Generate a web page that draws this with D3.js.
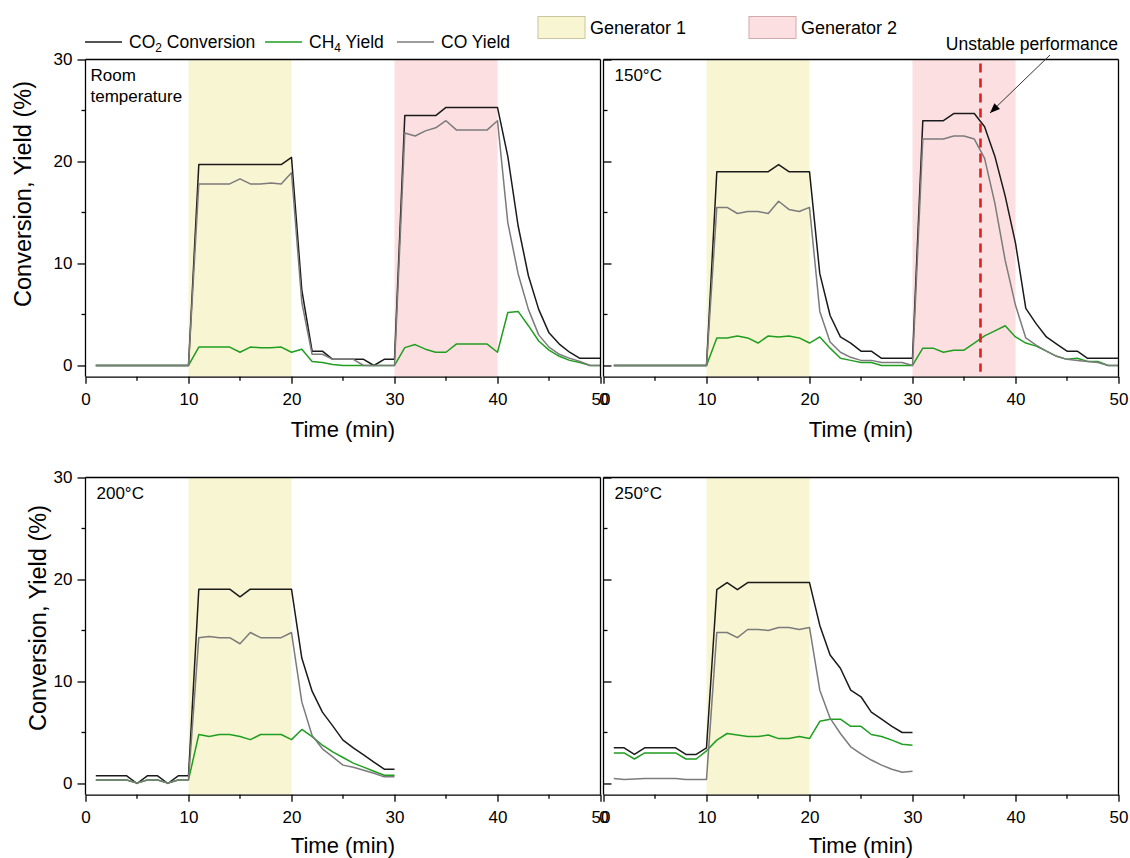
<!DOCTYPE html>
<html>
<head>
<meta charset="utf-8">
<script src="https://cdn.jsdelivr.net/npm/d3@7"></script>
<style>
  body { margin: 0; background: #fff; }
  text { font-family: "Liberation Sans", Arial, sans-serif; }
</style>
</head>
<body>
<svg id="chart" width="1130" height="858"></svg>
<script>

// time axis (one reading per minute)
var minutes50 = [1,2,3,4,5,6,7,8,9,10,11,12,13,14,15,16,17,18,19,20,21,22,23,24,25,
                 26,27,28,29,30,31,32,33,34,35,36,37,38,39,40,41,42,43,44,45,46,47,48,49,50];
var minutes30 = [1,2,3,4,5,6,7,8,9,10,11,12,13,14,15,16,17,18,19,20,21,22,23,24,25,26,27,28,29,30];

var xTicks = [0, 10, 20, 30, 40, 50];
var xMinor = [5, 15, 25, 35, 45];
var yTicks = [0, 10, 20, 30];
var yMinor = [5, 15, 25];

// room temperature
var co2RT = [0,0,0,0,0,0,0,0,0,0,
             19.7,19.7,19.7,19.7,19.7,19.7,19.7,19.7,19.7,20.4,
             7.4,1.4,1.4,0.6,0.6,0.6,0.6,0,0.6,0.6,
             24.5,24.5,24.5,24.5,25.3,25.3,25.3,25.3,25.3,25.3,
             20.5,13.7,8.8,5.5,3.2,2.1,1.3,0.7,0.7,0.7];
var ch4RT = [0,0,0,0,0,0,0,0,0,0,
             1.8,1.8,1.8,1.8,1.3,1.8,1.75,1.75,1.8,1.3,
             1.6,0.4,0.3,0.1,0,0,0,0,0,0,
             1.75,2.05,1.6,1.3,1.3,2.1,2.1,2.1,2.1,1.3,
             5.2,5.3,3.9,2.4,1.5,0.9,0.5,0.3,0,0];
var coRT  = [0,0,0,0,0,0,0,0,0,0,
             17.8,17.8,17.8,17.8,18.3,17.8,17.8,17.9,17.8,18.9,
             6.2,1.1,1.1,0.6,0.6,0.6,0,0,0,0,
             22.8,22.5,23.0,23.3,24.0,23.1,23.1,23.1,23.1,24.0,
             14.0,9.0,5.5,3.0,1.8,1.1,0.7,0.4,0,0];

// 150 C
var co2_150 = [0,0,0,0,0,0,0,0,0,0,
               19.0,19.0,19.0,19.0,19.0,19.0,19.7,19.0,19.0,19.0,
               9.0,4.9,2.8,2.2,1.4,1.4,0.7,0.7,0.7,0.7,
               24.0,24.0,24.0,24.7,24.7,24.7,23.4,20.5,16.6,12.0,
               5.6,4.1,2.8,2.1,1.4,1.4,0.7,0.7,0.7,0.7];
var ch4_150 = [0,0,0,0,0,0,0,0,0,0,
               2.7,2.7,2.9,2.7,2.2,2.9,2.8,2.9,2.7,2.2,
               2.8,1.7,0.7,0.5,0.3,0.3,0,0,0,0,
               1.7,1.7,1.3,1.5,1.5,2.2,2.9,3.4,3.9,2.8,
               2.2,1.9,1.4,0.9,0.6,0.7,0.4,0.4,0,0];
var co_150  = [0,0,0,0,0,0,0,0,0,0,
               15.5,15.5,14.9,15.1,15.1,14.9,16.1,15.3,15.1,15.5,
               5.3,2.3,1.3,0.8,0.5,0.5,0.3,0.3,0.3,0,
               22.2,22.2,22.2,22.5,22.5,22.2,20.3,15.9,10.3,5.9,
               2.7,2.0,1.4,0.9,0.6,0.5,0.4,0.3,0,0];

// 200 C
var co2_200 = [0.75,0.75,0.75,0.75,0,0.75,0.75,0,0.75,0.75,
               19.05,19.05,19.05,19.05,18.3,19.05,19.05,19.05,19.05,19.05,
               12.3,9.05,7.0,5.65,4.25,3.5,2.8,2.1,1.4,1.4];
var ch4_200 = [0.35,0.35,0.35,0.35,0.05,0.35,0.35,0.05,0.35,0.35,
               4.8,4.6,4.8,4.8,4.6,4.3,4.8,4.8,4.8,4.3,
               5.3,4.6,3.75,3.1,2.55,2.0,1.6,1.2,0.8,0.8];
var co_200  = [0.35,0.35,0.35,0.35,0.05,0.35,0.35,0.05,0.35,0.35,
               14.3,14.4,14.3,14.3,13.7,14.8,14.3,14.3,14.3,14.8,
               8.0,4.7,3.4,2.6,1.8,1.6,1.3,1.0,0.65,0.65];

// 250 C
var co2_250 = [3.5,3.5,2.85,3.5,3.5,3.5,3.5,2.85,2.85,3.5,
               19.0,19.7,19.0,19.7,19.7,19.7,19.7,19.7,19.7,19.7,
               15.5,12.6,11.3,9.15,8.5,7.0,6.3,5.6,5.0,5.0];
var ch4_250 = [3.0,3.0,2.4,3.0,3.0,3.0,3.0,2.4,2.4,3.2,
               4.25,4.9,4.75,4.6,4.6,4.75,4.4,4.4,4.6,4.4,
               6.1,6.3,6.3,5.6,5.6,4.8,4.6,4.25,3.85,3.75];
var co_250  = [0.5,0.4,0.45,0.5,0.5,0.5,0.5,0.4,0.4,0.4,
               14.8,14.8,14.3,15.1,15.1,15.0,15.3,15.3,15.1,15.3,
               9.15,6.4,4.9,3.6,2.9,2.3,1.8,1.4,1.1,1.2];

var gen1 = [10, 20];
var gen2 = [30, 40];
var unstableAt = 36.6;

var colors = { co2: "#1a1a1a", ch4: "#1f9e1f", co: "#7b7b7b", gen1: "#f8f5d2", gen2: "#fcdfe0" };

var svg = d3.select("#chart");

var panels = [
  { name: ["Room", "temperature"], t: minutes50, co2: co2RT, ch4: ch4RT, co: coRT,
    x0: 85.5, x1: 600.5, top: 59.5, bottom: 376.7, left: true, g2: true,
    ylabX: 31, ylabY: 194, title: "Conversion, Yield (%)", timeY: 437 },
  { name: ["150\u00B0C"], t: minutes50, co2: co2_150, ch4: ch4_150, co: co_150,
    x0: 603.5, x1: 1118.5, top: 59.5, bottom: 376.7, left: false, g2: true, unstable: true, timeY: 437 },
  { name: ["200\u00B0C"], t: minutes30, co2: co2_200, ch4: ch4_200, co: co_200,
    x0: 85.5, x1: 600.5, top: 477.5, bottom: 794.7, left: true, g2: false,
    ylabX: 46, ylabY: 618, title: "Conversion,  Yield (%)", timeY: 852.5 },
  { name: ["250\u00B0C"], t: minutes30, co2: co2_250, ch4: ch4_250, co: co_250,
    x0: 603.5, x1: 1118.5, top: 477.5, bottom: 794.7, left: false, g2: false, timeY: 852.5 }
];

function styleAxis(g) {
  g.selectAll("path, line").attr("stroke", "#000").attr("stroke-width", 1.3);
  g.selectAll("text").attr("fill", "#000").style("font-size", "17px")
    .style("font-family", "'Liberation Sans', Arial, sans-serif");
}

function drawPanel(p) {
  var x = d3.scaleLinear().domain([0, 50]).range([p.x0, p.x1]);
  var y = d3.scaleLinear().domain([-1.1, 30]).range([p.bottom, p.top]);
  var g = svg.append("g");

  // generator bands
  g.append("rect").attr("x", x(gen1[0])).attr("width", x(gen1[1]) - x(gen1[0]))
    .attr("y", p.top).attr("height", p.bottom - p.top).attr("fill", colors.gen1);
  if (p.g2) {
    g.append("rect").attr("x", x(gen2[0])).attr("width", x(gen2[1]) - x(gen2[0]))
      .attr("y", p.top).attr("height", p.bottom - p.top).attr("fill", colors.gen2);
  }

  // series
  var series = [["co2", p.co2], ["ch4", p.ch4], ["co", p.co]];
  series.forEach(function (s) {
    var line = d3.line().x(function (d, i) { return x(p.t[i]); }).y(function (d) { return y(d); });
    g.append("path").datum(s[1]).attr("d", line).attr("fill", "none")
      .attr("stroke", colors[s[0]]).attr("stroke-width", 1.5).attr("stroke-linejoin", "round");
  });

  if (p.unstable) {
    g.append("line").attr("x1", x(unstableAt)).attr("x2", x(unstableAt))
      .attr("y1", p.top + 4).attr("y2", p.bottom - 5)
      .attr("stroke", "#e0201e").attr("stroke-width", 2.6).attr("stroke-dasharray", "9,6");
  }

  // frame
  g.append("line").attr("x1", p.x0).attr("x2", p.x1).attr("y1", p.top).attr("y2", p.top)
    .attr("stroke", "#000").attr("stroke-width", 1.3);
  g.append("line").attr("x1", p.x1).attr("x2", p.x1).attr("y1", p.top).attr("y2", p.bottom)
    .attr("stroke", "#000").attr("stroke-width", 1.3);

  // x axis
  var xa = g.append("g").attr("transform", "translate(0," + p.bottom + ")")
    .call(d3.axisBottom(x).tickValues(xTicks).tickSize(7).tickSizeOuter(0).tickPadding(9));
  xa.append("g").selectAll("line").data(xMinor).enter().append("line")
    .attr("x1", function (d) { return x(d); }).attr("x2", function (d) { return x(d); })
    .attr("y1", 0).attr("y2", 4);
  styleAxis(xa);

  // y axis
  var ya;
  if (p.left) {
    ya = g.append("g").attr("transform", "translate(" + p.x0 + ",0)")
      .call(d3.axisLeft(y).tickValues(yTicks).tickSize(8).tickSizeOuter(0).tickPadding(5));
    ya.append("g").selectAll("line").data(yMinor).enter().append("line")
      .attr("x1", 0).attr("x2", -4)
      .attr("y1", function (d) { return y(d); }).attr("y2", function (d) { return y(d); });
  } else {
    ya = g.append("g").attr("transform", "translate(" + p.x0 + ",0)")
      .call(d3.axisLeft(y).tickValues(yTicks).tickSize(-8).tickSizeOuter(0).tickFormat(""));
    ya.append("g").selectAll("line").data(yMinor).enter().append("line")
      .attr("x1", 0).attr("x2", 4)
      .attr("y1", function (d) { return y(d); }).attr("y2", function (d) { return y(d); });
  }
  ya.select(".domain").attr("d", "M0," + p.bottom + "V" + p.top);
  styleAxis(ya);

  // panel label
  var lx = p.x0 + (p.name.length > 1 ? 5 : 11);
  var lbl = g.append("text").attr("x", lx).attr("y", p.top + 21)
    .style("font-size", "17px").attr("fill", "#000");
  p.name.forEach(function (s, i) {
    lbl.append("tspan").attr("x", lx).attr("dy", i === 0 ? 0 : 21).text(s);
  });

  // axis titles
  g.append("text").attr("x", (p.x0 + p.x1) / 2).attr("y", p.timeY)
    .attr("text-anchor", "middle").style("font-size", "22px").text("Time (min)");
  if (p.left) {
    g.append("text").attr("transform", "translate(" + p.ylabX + "," + p.ylabY + ") rotate(-90)")
      .attr("text-anchor", "middle").style("font-size", "23.5px").text(p.title);
  }
}

panels.forEach(drawPanel);

// legend for the lines
var legendItems = [
  { key: "co2", x: 85, parts: ["CO", "2", " Conversion"] },
  { key: "ch4", x: 265, parts: ["CH", "4", " Yield"] },
  { key: "co", x: 397, parts: ["CO Yield"] }
];
legendItems.forEach(function (d) {
  svg.append("line").attr("x1", d.x).attr("x2", d.x + 37).attr("y1", 42).attr("y2", 42)
    .attr("stroke", colors[d.key]).attr("stroke-width", 1.6);
  var t = svg.append("text").attr("x", d.x + 44).attr("y", 48).style("font-size", "17.5px");
  t.append("tspan").text(d.parts[0]);
  if (d.parts.length > 1) {
    t.append("tspan").attr("dy", 4).style("font-size", "12px").text(d.parts[1]);
    t.append("tspan").attr("dy", -4).text(d.parts[2]);
  }
});

// legend for the generator bands
[{ x: 538, fill: colors.gen1, stroke: "#c9c6a0", label: "Generator 1" },
 { x: 749, fill: colors.gen2, stroke: "#d3a9ab", label: "Generator 2" }].forEach(function (d) {
  svg.append("rect").attr("x", d.x).attr("y", 16.5).attr("width", 47).attr("height", 22)
    .attr("fill", d.fill).attr("stroke", d.stroke).attr("stroke-width", 1);
  svg.append("text").attr("x", d.x + 52).attr("y", 34).style("font-size", "18px").text(d.label);
});

// annotation
svg.append("defs").append("marker").attr("id", "arrow").attr("viewBox", "0 0 10 10")
  .attr("refX", 10).attr("refY", 5).attr("markerWidth", 10).attr("markerHeight", 10)
  .attr("markerUnits", "userSpaceOnUse").attr("orient", "auto")
  .append("path").attr("d", "M0,1L10,5L0,9Z").attr("fill", "#000");
svg.append("line").attr("x1", 1050).attr("y1", 55).attr("x2", 990).attr("y2", 113)
  .attr("stroke", "#333").attr("stroke-width", 1).attr("marker-end", "url(#arrow)");
svg.append("text").attr("x", 1118).attr("y", 50).attr("text-anchor", "end")
  .style("font-size", "17.5px").text("Unstable performance");

</script>
</body>
</html>
